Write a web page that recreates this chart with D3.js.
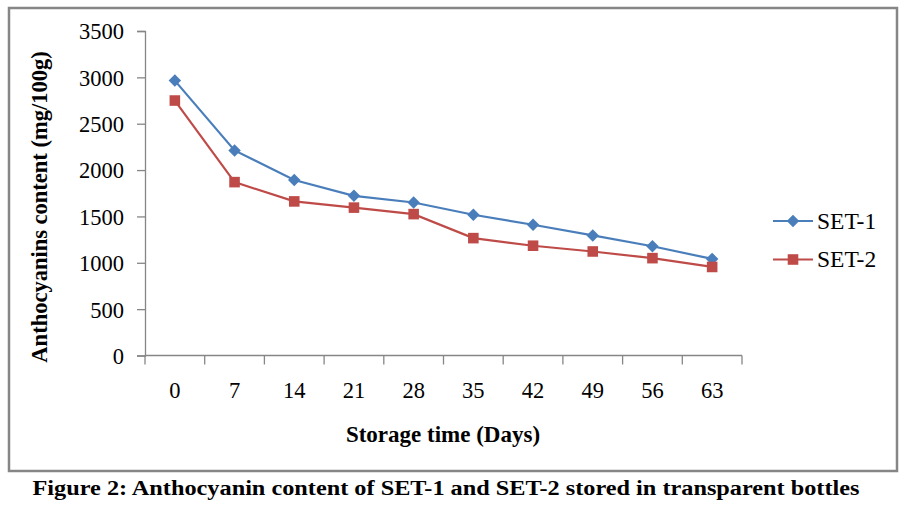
<!DOCTYPE html>
<html>
<head>
<meta charset="utf-8">
<script src="https://cdn.jsdelivr.net/npm/d3@7.9.0/dist/d3.min.js"></script>
<style>
  body { margin: 0; background: #fff; }
  svg { display: block; }
  svg text { font-family: "Times New Roman", "Liberation Serif", Tinos, Times, serif; fill: #000; }
</style>
</head>
<body>
<svg id="chart" width="907" height="509"></svg>
<script>
// storage days and anthocyanin content (mg/100g)
const days = ["0", "7", "14", "21", "28", "35", "42", "49", "56", "63"];
const set1 = [2965, 2212, 1893, 1722, 1650, 1518, 1410, 1295, 1178, 1042];
const set2 = [2750, 1870, 1662, 1595, 1525, 1266, 1184, 1122, 1050, 955];
const yTicks = [0, 500, 1000, 1500, 2000, 2500, 3000, 3500];
const seriesNames = ["SET-1", "SET-2"];

const svg = d3.select("#chart");
const serif = '"Times New Roman", "Liberation Serif", Tinos, Times, serif';

// chart frame
svg.append("rect")
  .attr("x", 9).attr("y", 8)
  .attr("width", 888).attr("height", 463)
  .attr("fill", "none")
  .attr("stroke", "#868686")
  .attr("stroke-width", 2.5);

const plot = { left: 145, right: 742, top: 31, bottom: 355.5 };

const x = d3.scaleBand().domain(days).range([plot.left, plot.right]);
const y = d3.scaleLinear().domain([0, 3500]).range([plot.bottom, plot.top]);

// y axis
const yAxis = svg.append("g")
  .attr("transform", `translate(${plot.left},0)`)
  .call(d3.axisLeft(y).tickValues(yTicks).tickSize(8).tickPadding(13).tickFormat(d3.format("d")))
  .attr("font-family", serif);
yAxis.select(".domain").attr("stroke", "#868686").attr("stroke-width", 1.3);
yAxis.selectAll(".tick line").attr("stroke", "#868686").attr("stroke-width", 1.3);
yAxis.selectAll("text").style("font-size", "22.5px").attr("dy", "0.35em");

// x axis: ticks at category boundaries, labels centered
const xAxisG = svg.append("g")
  .attr("transform", `translate(0,${plot.bottom})`);
xAxisG.append("line")
  .attr("x1", plot.left).attr("x2", plot.right)
  .attr("stroke", "#868686").attr("stroke-width", 1.3);
const bounds = days.map(d => x(d)).concat([plot.right]);
xAxisG.selectAll(".tk").data(bounds).join("line")
  .attr("class", "tk")
  .attr("x1", d => d).attr("x2", d => d)
  .attr("y1", 0).attr("y2", 9)
  .attr("stroke", "#868686").attr("stroke-width", 1.3);
xAxisG.selectAll(".lbl").data(days).join("text")
  .attr("class", "lbl")
  .attr("x", d => x(d) + x.bandwidth() / 2)
  .attr("y", 42)
  .attr("text-anchor", "middle")
  .style("font-size", "22.5px")
  .text(d => d);

// axis titles
svg.append("text")
  .attr("x", 443).attr("y", 442)
  .attr("text-anchor", "middle")
  .style("font-size", "23px").style("font-weight", "bold")
  .text("Storage time (Days)");

svg.append("text")
  .attr("transform", "translate(47,207) rotate(-90)")
  .attr("text-anchor", "middle")
  .style("font-size", "22.5px").style("font-weight", "bold")
  .text("Anthocyanins content (mg/100g)");

// series
const colors = ["#4a7ebb", "#be4b48"];
const cx = d => x(d) + x.bandwidth() / 2;
const line = d3.line().x((v, i) => cx(days[i])).y(v => y(v));

// diamond = square turned 45 degrees, like the spreadsheet marker
const marks = [
  { sym: d3.symbol().type(d3.symbolSquare).size(78), rot: 45 },
  { sym: d3.symbol().type(d3.symbolSquare).size(112), rot: 0 }
];

[set1, set2].forEach((vals, s) => {
  svg.append("path")
    .datum(vals)
    .attr("d", line)
    .attr("fill", "none")
    .attr("stroke", colors[s])
    .attr("stroke-width", 2.2);
  svg.selectAll(".m" + s).data(vals).join("path")
    .attr("class", "m" + s)
    .attr("transform", (v, i) => `translate(${cx(days[i])},${y(v)}) rotate(${marks[s].rot})`)
    .attr("d", marks[s].sym)
    .attr("fill", colors[s]);
});

// legend
const legend = svg.append("g");
seriesNames.forEach((name, s) => {
  const ly = 221 + s * 38.5;
  legend.append("line")
    .attr("x1", 773).attr("x2", 813)
    .attr("y1", ly).attr("y2", ly)
    .attr("stroke", colors[s]).attr("stroke-width", 2.2);
  legend.append("path")
    .attr("transform", `translate(793,${ly}) rotate(${marks[s].rot})`)
    .attr("d", marks[s].sym)
    .attr("fill", colors[s]);
  legend.append("text")
    .attr("x", 817).attr("y", ly + 7.5)
    .style("font-size", "23.5px")
    .text(name);
});

// caption
svg.append("text")
  .attr("x", 446).attr("y", 495)
  .attr("text-anchor", "middle")
  .attr("textLength", 827)
  .attr("lengthAdjust", "spacingAndGlyphs")
  .style("font-size", "20px").style("font-weight", "bold")
  .text("Figure 2: Anthocyanin content of SET-1 and SET-2 stored in transparent bottles");
</script>
</body>
</html>
